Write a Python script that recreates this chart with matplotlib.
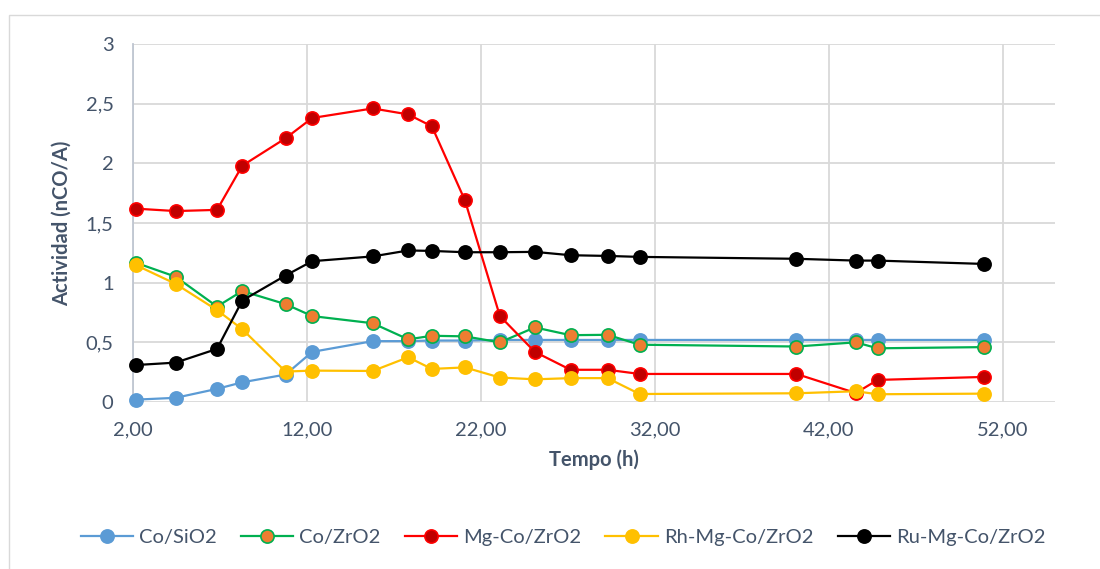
import matplotlib
matplotlib.use('Agg')
import matplotlib.pyplot as plt
from matplotlib.patches import Rectangle
from matplotlib.ticker import FuncFormatter, MultipleLocator

plt.rcParams['font.family'] = ['Lato', 'DejaVu Sans']

# tiempos de medida (h)
tempo = [2.2, 4.45, 6.83, 8.28, 10.77, 12.30, 15.78, 17.82, 19.18, 21.08,
         23.09, 25.10, 27.15, 29.28, 31.12, 40.14, 43.55, 44.80, 50.91]

co_sio2 = [0.02, 0.035, 0.11, 0.165, 0.23, 0.42, 0.51, 0.51, 0.515, 0.515,
           0.52, 0.52, 0.52, 0.52, 0.52, 0.52, 0.52, 0.52, 0.52]
co_zro2 = [1.165, 1.05, 0.80, 0.93, 0.82, 0.72, 0.66, 0.525, 0.555, 0.55,
           0.50, 0.625, 0.56, 0.563, 0.48, 0.465, 0.50, 0.45, 0.46]
mg_co_zro2 = [1.62, 1.60, 1.61, 1.98, 2.21, 2.38, 2.46, 2.41, 2.31, 1.69,
              0.72, 0.42, 0.27, 0.27, 0.235, 0.235, 0.075, 0.185, 0.21]
rh_mg_co_zro2 = [1.145, 0.99, 0.77, 0.61, 0.255, 0.263, 0.26, 0.375, 0.277, 0.29,
                 0.205, 0.19, 0.20, 0.20, 0.067, 0.073, 0.09, 0.065, 0.07]
ru_mg_co_zro2 = [0.31, 0.33, 0.445, 0.85, 1.06, 1.18, 1.22, 1.27, 1.266, 1.255,
                 1.255, 1.258, 1.23, 1.224, 1.216, 1.20, 1.185, 1.185, 1.157]

nombres = ['Co/SiO2', 'Co/ZrO2', 'Mg-Co/ZrO2', 'Rh-Mg-Co/ZrO2', 'Ru-Mg-Co/ZrO2']
series = [co_sio2, co_zro2, mg_co_zro2, rh_mg_co_zro2, ru_mg_co_zro2]
# (línea, relleno marcador, borde marcador)
estilos = [('#5B9BD5', '#5B9BD5', '#5B9BD5'),
           ('#00B050', '#ED7D31', '#00B050'),
           ('#FF0000', '#C00000', '#FF0000'),
           ('#FFC000', '#FFC000', '#FFC000'),
           ('#000000', '#000000', '#000000')]

texto = '#44546A'
rejilla = '#D9D9D9'

fig = plt.figure(figsize=(11, 5.69), dpi=100)
fig.patches.append(Rectangle((9 / 1100, -0.1), 1.2, 1 - 15 / 569 + 0.1,
                             transform=fig.transFigure, fill=False,
                             edgecolor='#D9D9D9', linewidth=1.0))

ax = fig.add_axes([133 / 1100, 1 - 402 / 569, (1055 - 133) / 1100, (402 - 44) / 569])

for nombre, datos, (lc, fc, ec) in zip(nombres, series, estilos):
    ax.plot(tempo, datos, color=lc, linewidth=1.6, marker='o', markersize=9.5,
            markerfacecolor=fc, markeredgecolor=ec, markeredgewidth=1.2,
            label=nombre, zorder=3, clip_on=False)

ax.set_xlim(2, 55)
ax.set_ylim(0, 3)
ax.xaxis.set_major_locator(MultipleLocator(10, offset=2))
ax.yaxis.set_major_locator(MultipleLocator(0.5))
ax.xaxis.set_major_formatter(FuncFormatter(lambda v, p: f'{v:.2f}'.replace('.', ',')))
ax.yaxis.set_major_formatter(FuncFormatter(lambda v, p: f'{v:g}'.replace('.', ',')))

ax.grid(True, color=rejilla, linewidth=1.3, zorder=0)
ax.set_axisbelow(True)
for lado in ['top', 'right', 'bottom']:
    ax.spines[lado].set_visible(False)
ax.spines['left'].set_color('#BFC6D1')
ax.spines['left'].set_linewidth(1.3)
ax.tick_params(length=0, labelsize=14.5, colors=texto)
ax.tick_params(axis='x', pad=14)
ax.tick_params(axis='y', pad=14)

ax.set_xlabel('Tempo (h)', fontsize=14.5, fontweight='bold', color=texto, labelpad=8)
ax.set_ylabel('Actividad (nCO/A)', fontsize=14.5, fontweight='bold', color=texto, labelpad=10)

fig.legend(loc='center', bbox_to_anchor=(563 / 1100, 1 - 537 / 569), ncol=5,
           frameon=False, fontsize=14.5, labelcolor=texto, handlelength=2.6,
           columnspacing=1.2, handletextpad=0.3)

fig.savefig('out.png', dpi=100, facecolor='white')
